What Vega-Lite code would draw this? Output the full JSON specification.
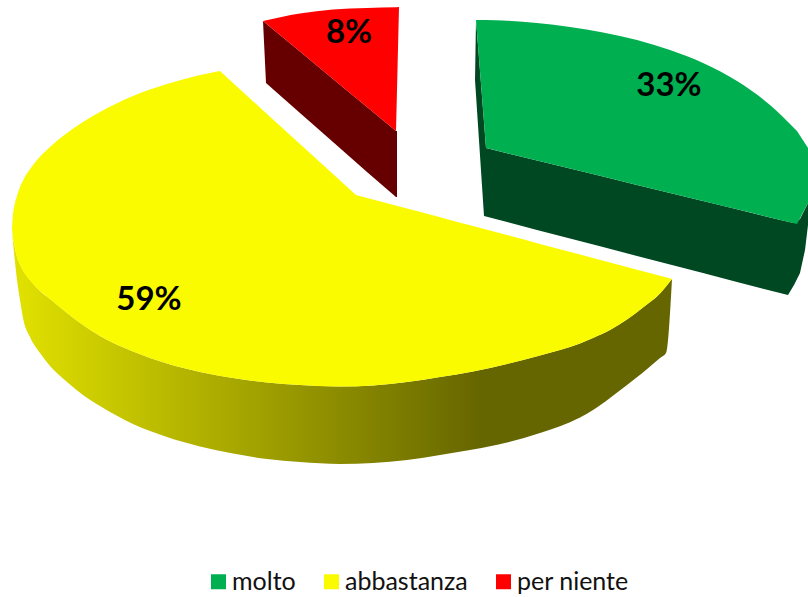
{"$schema":"https://vega.github.io/schema/vega-lite/v6.json","width":808,"height":597,"padding":0,"autosize":{"type":"none"},"background":"white","config":{"view":{"stroke":null}},
"datasets":{
"faces":[
{"category":"abbastanza","piece":"a1","x":12,"up":228,"low":228},{"category":"abbastanza","piece":"a1","x":13,"up":214,"low":238},{"category":"abbastanza","piece":"a1","x":14,"up":207.5,"low":243.5},{"category":"abbastanza","piece":"a1","x":17,"up":196,"low":257},{"category":"abbastanza","piece":"a1","x":20,"up":187,"low":264.5},{"category":"abbastanza","piece":"a1","x":23,"up":180.5,"low":270.5},{"category":"abbastanza","piece":"a1","x":33,"up":165,"low":284},{"category":"abbastanza","piece":"a1","x":50,"up":147,"low":299},{"category":"abbastanza","piece":"a1","x":67,"up":133,"low":313},{"category":"abbastanza","piece":"a1","x":83,"up":122,"low":325},{"category":"abbastanza","piece":"a1","x":100,"up":112,"low":336},{"category":"abbastanza","piece":"a1","x":133,"up":96,"low":351.5},{"category":"abbastanza","piece":"a1","x":167,"up":84,"low":363.5},{"category":"abbastanza","piece":"a1","x":200,"up":75,"low":372},{"category":"abbastanza","piece":"a1","x":220,"up":71,"low":376},
{"category":"abbastanza","piece":"a2","x":220,"up":71,"low":376},{"category":"abbastanza","piece":"a2","x":233,"up":82.9,"low":378},{"category":"abbastanza","piece":"a2","x":267,"up":113.9,"low":382.5},{"category":"abbastanza","piece":"a2","x":300,"up":143.9,"low":385},{"category":"abbastanza","piece":"a2","x":333,"up":174,"low":386.5},{"category":"abbastanza","piece":"a2","x":356,"up":195,"low":386.5},
{"category":"abbastanza","piece":"a3","x":356,"up":195,"low":386.5},{"category":"abbastanza","piece":"a3","x":373,"up":199.5,"low":385.5},{"category":"abbastanza","piece":"a3","x":407,"up":208.6,"low":382},{"category":"abbastanza","piece":"a3","x":440,"up":217.3,"low":377},{"category":"abbastanza","piece":"a3","x":473,"up":226.1,"low":371.5},{"category":"abbastanza","piece":"a3","x":507,"up":235.1,"low":364},{"category":"abbastanza","piece":"a3","x":540,"up":243.9,"low":355.5},{"category":"abbastanza","piece":"a3","x":580,"up":254.5,"low":343.5},{"category":"abbastanza","piece":"a3","x":593,"up":258,"low":338},{"category":"abbastanza","piece":"a3","x":610,"up":262.5,"low":330},{"category":"abbastanza","piece":"a3","x":627,"up":267,"low":319.5},{"category":"abbastanza","piece":"a3","x":643,"up":271.3,"low":307.5},{"category":"abbastanza","piece":"a3","x":660,"up":275.8,"low":293.5},{"category":"abbastanza","piece":"a3","x":672,"up":279,"low":279},
{"category":"per niente","piece":"r1","x":263,"up":21,"low":21},{"category":"per niente","piece":"r1","x":300,"up":13.5,"low":51.6},{"category":"per niente","piece":"r1","x":333,"up":9.5,"low":78.9},{"category":"per niente","piece":"r1","x":367,"up":8,"low":107},{"category":"per niente","piece":"r1","x":396,"up":7.3,"low":131},
{"category":"per niente","piece":"r2","x":396,"up":7.3,"low":131},{"category":"per niente","piece":"r2","x":399,"up":7,"low":7},
{"category":"molto","piece":"g1","x":476,"up":20,"low":20},{"category":"molto","piece":"g1","x":486,"up":20,"low":148},
{"category":"molto","piece":"g2","x":486,"up":20,"low":148},{"category":"molto","piece":"g2","x":503,"up":20.5,"low":152.2},{"category":"molto","piece":"g2","x":537,"up":23,"low":160.5},{"category":"molto","piece":"g2","x":570,"up":27,"low":168.5},{"category":"molto","piece":"g2","x":603,"up":32.5,"low":176.6},{"category":"molto","piece":"g2","x":637,"up":40,"low":184.9},{"category":"molto","piece":"g2","x":670,"up":50,"low":193},{"category":"molto","piece":"g2","x":703,"up":63,"low":201},{"category":"molto","piece":"g2","x":737,"up":81,"low":209.3},{"category":"molto","piece":"g2","x":770,"up":105,"low":217.4},{"category":"molto","piece":"g2","x":797,"up":131,"low":224},
{"category":"molto","piece":"g3","x":797,"up":131,"low":224},{"category":"molto","piece":"g3","x":808,"up":148,"low":203}
],
"yellowSide":[
{"x":12,"up":228,"low":228},{"x":13,"up":238,"low":242},{"x":14,"up":243.5,"low":252},{"x":17,"up":257,"low":280},{"x":20,"up":264.5,"low":300},{"x":23,"up":270.5,"low":318},{"x":30,"up":280,"low":337},{"x":40,"up":291,"low":353},{"x":50,"up":299,"low":366},{"x":67,"up":313,"low":382},{"x":83,"up":325,"low":395},{"x":100,"up":336,"low":406},{"x":133,"up":351.5,"low":424},{"x":167,"up":363.5,"low":437},{"x":200,"up":372,"low":446.5},{"x":233,"up":378,"low":453.5},{"x":267,"up":382.5,"low":459},{"x":300,"up":385,"low":462},{"x":340,"up":386.5,"low":464},{"x":373,"up":385.5,"low":463},{"x":407,"up":382,"low":460},{"x":440,"up":377,"low":455},{"x":473,"up":371.5,"low":449.5},{"x":507,"up":364,"low":442.5},{"x":540,"up":355.5,"low":433},{"x":580,"up":343.5,"low":417.5},{"x":593,"up":338,"low":410},{"x":610,"up":330,"low":398},{"x":627,"up":319.5,"low":385},{"x":643,"up":307.5,"low":372.5},{"x":660,"up":293.5,"low":358},{"x":666,"up":286.5,"low":353},{"x":672,"up":279,"low":279}
],
"redSide":[
{"x":263,"up":21,"low":21},{"x":266,"up":23.5,"low":83},{"x":300,"up":51.6,"low":113},{"x":333,"up":78.9,"low":142},{"x":367,"up":107,"low":172},{"x":396,"up":131,"low":197},{"x":397,"up":131,"low":197}
],
"greenSide":[
{"x":475,"up":80,"low":80},{"x":476,"up":20,"low":95},{"x":484,"up":122,"low":216},{"x":486,"up":148,"low":216.5},{"x":537,"up":160.5,"low":230},{"x":570,"up":168.5,"low":238.5},{"x":603,"up":176.6,"low":247},{"x":637,"up":184.9,"low":256},{"x":670,"up":193,"low":264.5},{"x":703,"up":201,"low":273},{"x":737,"up":209.3,"low":282},{"x":770,"up":217.4,"low":290.5},{"x":788,"up":221.8,"low":295},{"x":794,"up":223,"low":285},{"x":800,"up":219,"low":273},{"x":805,"up":209,"low":250},{"x":808,"up":203,"low":225}
],
"labels":[{"label":"33%","x":669,"y":86},{"label":"59%","x":149,"y":300},{"label":"8%","x":349,"y":33}]
},
"encoding":{"x":{"field":"x","type":"quantitative","scale":{"domain":[0,808],"nice":false,"zero":false},"axis":null}},
"layer":[
{"data":{"name":"yellowSide"},"mark":{"type":"area","interpolate":"monotone","color":{"gradient":"linear","x1":0,"y1":0,"x2":1,"y2":0,"stops":[{"offset":0,"color":"#e2e200"},{"offset":0.71,"color":"#666600"},{"offset":1,"color":"#666600"}]}},"encoding":{"y":{"field":"up","type":"quantitative","stack":null,"scale":{"domain":[597,0],"nice":false,"zero":false},"axis":null},"y2":{"field":"low"}}},
{"data":{"name":"redSide"},"mark":{"type":"area","color":"#660000"},"encoding":{"y":{"field":"up","type":"quantitative","stack":null,"scale":{"domain":[597,0],"nice":false,"zero":false},"axis":null},"y2":{"field":"low"}}},
{"data":{"name":"greenSide"},"mark":{"type":"area","color":"#004822"},"encoding":{"y":{"field":"up","type":"quantitative","stack":null,"scale":{"domain":[597,0],"nice":false,"zero":false},"axis":null},"y2":{"field":"low"}}},
{"data":{"name":"faces"},"mark":{"type":"area","interpolate":"monotone"},"encoding":{"y":{"field":"up","type":"quantitative","stack":null,"scale":{"domain":[597,0],"nice":false,"zero":false},"axis":null},"y2":{"field":"low"},"detail":{"field":"piece","type":"nominal"},"color":{"field":"category","type":"nominal","scale":{"domain":["molto","abbastanza","per niente"],"range":["#00AF50","#FBFB00","#FF0000"]},"legend":{"title":null,"orient":"none","legendX":206,"legendY":569,"direction":"horizontal","symbolType":"square","symbolSize":225,"symbolOpacity":1,"symbolStrokeWidth":0,"labelFont":"Lato","labelFontSize":25,"labelColor":"#111111","columnPadding":23,"labelOffset":1,"labelLimit":200}}}},
{"data":{"name":"labels"},"mark":{"type":"text","font":"Lato","fontWeight":"bold","fontSize":33,"color":"#000000","align":"center","baseline":"middle"},"encoding":{"y":{"field":"y","type":"quantitative","scale":{"domain":[597,0],"nice":false,"zero":false},"axis":null},"text":{"field":"label","type":"nominal"}}}
]}
